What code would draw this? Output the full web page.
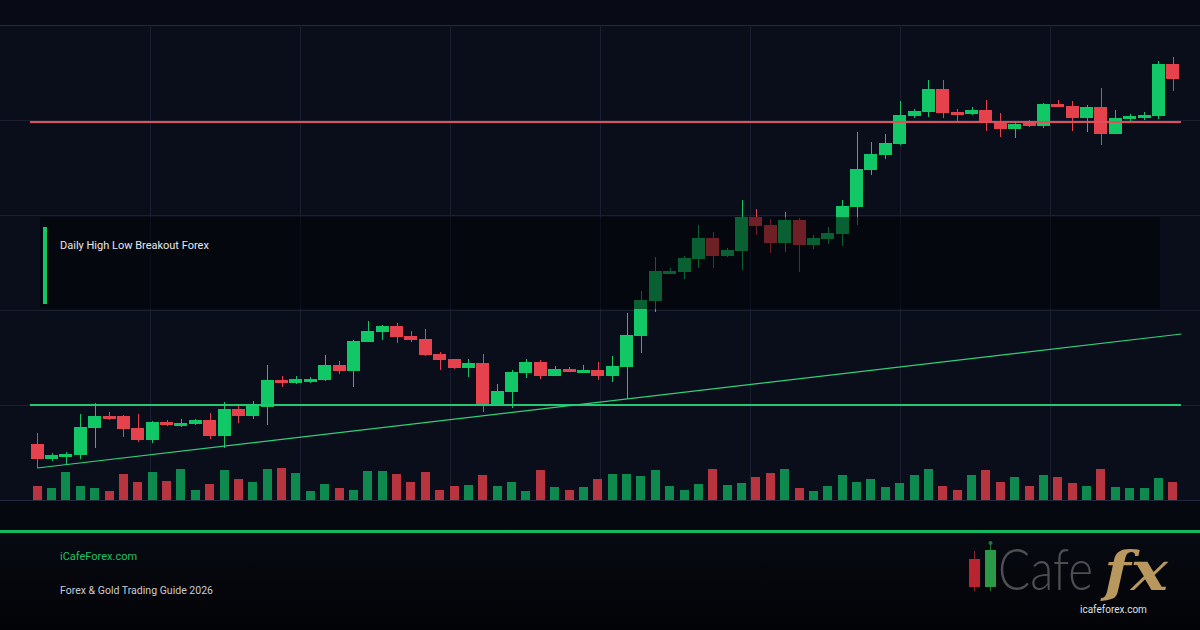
<!DOCTYPE html>
<html>
<head>
<meta charset="utf-8">
<script src="https://cdn.jsdelivr.net/npm/d3@7"></script>
<style>
  html, body { margin: 0; padding: 0; background: #0a0e1a; overflow: hidden; }
  #canvas { width: 1200px; height: 630px; }
</style>
</head>
<body>
<div id="canvas"></div>
<script>
// daily candles
var opens = [
  1.0856, 1.0841, 1.0843, 1.0845, 1.0872, 1.0884, 1.0884, 1.0872, 1.0860, 1.0878,
  1.0874, 1.0876, 1.0880, 1.0864, 1.0891, 1.0884, 1.0893, 1.0920, 1.0917, 1.0918,
  1.0920, 1.0935, 1.0929, 1.0958, 1.0968, 1.0974, 1.0964, 1.0961, 1.0946, 1.0941,
  1.0932, 1.0937, 1.0894, 1.0908, 1.0927, 1.0938, 1.0924, 1.0931, 1.0927, 1.0930,
  1.0924, 1.0933, 1.0964, 1.0999, 1.1026, 1.1028, 1.1041, 1.1062, 1.1044, 1.1049,
  1.1083, 1.1075, 1.1057, 1.1080, 1.1055, 1.1061, 1.1066, 1.1093, 1.1130, 1.1145,
  1.1156, 1.1184, 1.1188, 1.1211, 1.1188, 1.1186, 1.1190, 1.1178, 1.1171, 1.1177,
  1.1174, 1.1196, 1.1194, 1.1182, 1.1193, 1.1166, 1.1181, 1.1182, 1.1184, 1.1236
];
var highs = [
  1.0867, 1.0847, 1.0848, 1.0886, 1.0897, 1.0888, 1.0885, 1.0886, 1.0879, 1.0880,
  1.0881, 1.0881, 1.0887, 1.0898, 1.0894, 1.0899, 1.0935, 1.0924, 1.0924, 1.0923,
  1.0945, 1.0939, 1.0960, 1.0979, 1.0975, 1.0977, 1.0969, 1.0971, 1.0948, 1.0941,
  1.0941, 1.0946, 1.0916, 1.0930, 1.0941, 1.0940, 1.0934, 1.0933, 1.0935, 1.0938,
  1.0944, 1.0987, 1.1009, 1.1043, 1.1032, 1.1044, 1.1075, 1.1068, 1.1052, 1.1100,
  1.1091, 1.1081, 1.1088, 1.1082, 1.1065, 1.1073, 1.1100, 1.1168, 1.1158, 1.1166,
  1.1199, 1.1191, 1.1220, 1.1220, 1.1191, 1.1193, 1.1200, 1.1187, 1.1179, 1.1180,
  1.1197, 1.1200, 1.1199, 1.1195, 1.1212, 1.1190, 1.1186, 1.1188, 1.1239, 1.1243
];
var lows = [
  1.0832, 1.0839, 1.0836, 1.0841, 1.0852, 1.0880, 1.0863, 1.0858, 1.0857, 1.0874,
  1.0873, 1.0875, 1.0861, 1.0852, 1.0877, 1.0881, 1.0875, 1.0913, 1.0916, 1.0917,
  1.0919, 1.0926, 1.0913, 1.0958, 1.0960, 1.0957, 1.0958, 1.0944, 1.0930, 1.0931,
  1.0923, 1.0888, 1.0894, 1.0892, 1.0922, 1.0921, 1.0924, 1.0928, 1.0927, 1.0920,
  1.0918, 1.0901, 1.0947, 1.0988, 1.1026, 1.1021, 1.1032, 1.1032, 1.1043, 1.1030,
  1.1065, 1.1047, 1.1048, 1.1028, 1.1051, 1.1056, 1.1054, 1.1075, 1.1125, 1.1141,
  1.1155, 1.1182, 1.1183, 1.1182, 1.1179, 1.1185, 1.1169, 1.1163, 1.1162, 1.1173,
  1.1172, 1.1193, 1.1169, 1.1168, 1.1155, 1.1166, 1.1178, 1.1180, 1.1181, 1.1209
];
var closes = [
  1.0841, 1.0845, 1.0846, 1.0873, 1.0884, 1.0881, 1.0871, 1.0860, 1.0878, 1.0875,
  1.0877, 1.0880, 1.0864, 1.0891, 1.0884, 1.0896, 1.0920, 1.0917, 1.0921, 1.0921,
  1.0935, 1.0929, 1.0959, 1.0969, 1.0974, 1.0963, 1.0960, 1.0945, 1.0940, 1.0932,
  1.0937, 1.0896, 1.0909, 1.0928, 1.0938, 1.0924, 1.0931, 1.0928, 1.0930, 1.0924,
  1.0934, 1.0965, 1.1000, 1.1029, 1.1029, 1.1042, 1.1062, 1.1044, 1.1050, 1.1083,
  1.1074, 1.1057, 1.1080, 1.1055, 1.1062, 1.1067, 1.1094, 1.1131, 1.1146, 1.1157,
  1.1185, 1.1189, 1.1211, 1.1187, 1.1185, 1.1190, 1.1177, 1.1171, 1.1176, 1.1174,
  1.1196, 1.1193, 1.1182, 1.1193, 1.1166, 1.1182, 1.1184, 1.1185, 1.1236, 1.1221
];
var volumes = [
  1400, 1200, 2800, 1400, 1200, 900, 2600, 1800, 2800, 1900,
  3100, 1000, 1600, 3000, 2100, 1800, 3100, 3200, 2700, 900,
  1600, 1200, 1000, 2900, 2900, 2600, 1800, 2800, 1000, 1400,
  1500, 2500, 1400, 1800, 900, 3000, 1300, 1000, 1300, 2100,
  2600, 2600, 2400, 3000, 1400, 1000, 1600, 3100, 1500, 1700,
  2300, 2700, 3100, 1200, 900, 1400, 2500, 1800, 2100, 1300,
  1700, 2500, 3100, 1400, 1000, 2500, 3000, 1800, 2300, 1400,
  2500, 2300, 1700, 1400, 3100, 1300, 1200, 1200, 2200, 1800
];

var gridPrices = [1.0800, 1.0895, 1.0990, 1.1085, 1.1180, 1.1275];
var resistance = 1.1178;
var support = 1.0895;
var trendPoints = [[0, 1.0832], [79.6, 1.0966]];

var title = "Daily High Low Breakout Forex";
var siteName = "iCafeForex.com";
var subtitle = "Forex & Gold Trading Guide 2026";
var logoUrl = "icafeforex.com";

function run() {
  var width = 1200,
    height = 630;

  var green = "#12c866",
    red = "#e5424e",
    volGreen = "#0f8a4f",
    volRed = "#b8343f";

  var candles = opens.map(function(o, i) {
    return { i: i, o: o, h: highs[i], l: lows[i], c: closes[i], v: volumes[i] };
  });

  var svg = d3
    .select("#canvas")
    .append("svg")
    .attr("width", width)
    .attr("height", height);

  var defs = svg.append("defs");
  var grad = defs
    .append("linearGradient")
    .attr("id", "footerGrad")
    .attr("x1", 0)
    .attr("y1", 0)
    .attr("x2", 0)
    .attr("y2", 1);
  grad.append("stop").attr("offset", "0%").attr("stop-color", "#070a12");
  grad.append("stop").attr("offset", "100%").attr("stop-color", "#020306");

  // backgrounds
  svg.append("rect").attr("width", width).attr("height", height).style("fill", "#0a0e1a");
  svg.append("rect").attr("width", width).attr("height", 25).style("fill", "#080b15");
  svg.append("rect").attr("y", 500).attr("width", width).attr("height", 30).style("fill", "#060810");
  svg.append("rect").attr("y", 533).attr("width", width).attr("height", 97).style("fill", "url(#footerGrad)");

  var x = d3
    .scaleBand()
    .domain(d3.range(candles.length))
    .range([30, 1180])
    .paddingInner(0.1)
    .paddingOuter(0.05);

  var xi = d3
    .scaleLinear()
    .domain([-0.5, candles.length - 0.5])
    .range([30, 1180]);

  var y = d3
    .scaleLinear()
    .domain([gridPrices[0], gridPrices[gridPrices.length - 1]])
    .range([500, 25]);

  var vy = d3
    .scaleLinear()
    .domain([0, 3200])
    .range([500, 468]);

  // grid
  var grid = svg.append("g").attr("class", "grid").style("shape-rendering", "crispEdges");
  grid
    .selectAll("line.h")
    .data(gridPrices)
    .enter()
    .append("line")
    .attr("class", "h")
    .attr("x1", 0)
    .attr("x2", width)
    .attr("y1", function(d) {
      return Math.round(y(d)) + 0.5;
    })
    .attr("y2", function(d) {
      return Math.round(y(d)) + 0.5;
    })
    .style("stroke", function(d, i) {
      return i === 0 || i === gridPrices.length - 1 ? "#232a3b" : "#1a2032";
    });
  grid
    .selectAll("line.v")
    .data(d3.range(150, width, 150))
    .enter()
    .append("line")
    .attr("class", "v")
    .attr("x1", function(d) {
      return d + 0.5;
    })
    .attr("x2", function(d) {
      return d + 0.5;
    })
    .attr("y1", y(gridPrices[gridPrices.length - 1]))
    .attr("y2", y(gridPrices[0]))
    .style("stroke", "#1a2032");

  // volume
  var vw = Math.round(x.bandwidth() * 0.7);
  svg
    .append("g")
    .attr("class", "volume")
    .style("shape-rendering", "crispEdges")
    .selectAll("rect")
    .data(candles)
    .enter()
    .append("rect")
    .attr("x", function(d) {
      return Math.round(x(d.i) + x.bandwidth() / 2 - vw / 2);
    })
    .attr("y", function(d) {
      return vy(d.v);
    })
    .attr("width", vw)
    .attr("height", function(d) {
      return vy(0) - vy(d.v);
    })
    .style("fill", function(d) {
      return d.c >= d.o ? volGreen : volRed;
    });

  // candles
  var candle = svg
    .append("g")
    .attr("class", "candles")
    .style("shape-rendering", "crispEdges")
    .selectAll("g")
    .data(candles)
    .enter()
    .append("g");

  candle
    .append("line")
    .attr("x1", function(d) {
      return Math.round(x(d.i) + x.bandwidth() / 2) + 0.5;
    })
    .attr("x2", function(d) {
      return Math.round(x(d.i) + x.bandwidth() / 2) + 0.5;
    })
    .attr("y1", function(d) {
      return y(d.h);
    })
    .attr("y2", function(d) {
      return y(d.l);
    })
    .style("stroke", function(d) {
      return d.c >= d.o ? green : red;
    });

  candle
    .append("rect")
    .attr("x", function(d) {
      return Math.round(x(d.i));
    })
    .attr("width", Math.round(x.bandwidth()))
    .attr("y", function(d) {
      return y(Math.max(d.o, d.c));
    })
    .attr("height", function(d) {
      return Math.max(2, Math.abs(y(d.o) - y(d.c)));
    })
    .style("fill", function(d) {
      return d.c >= d.o ? green : red;
    });

  // levels
  svg
    .append("line")
    .attr("x1", 30)
    .attr("x2", 1181)
    .attr("y1", y(resistance))
    .attr("y2", y(resistance))
    .style("stroke", "#e0505a")
    .style("stroke-width", 2);

  svg
    .append("line")
    .attr("x1", 30)
    .attr("x2", 1181)
    .attr("y1", y(support))
    .attr("y2", y(support))
    .style("stroke", "#22c873")
    .style("stroke-width", 2);

  svg
    .append("path")
    .datum(trendPoints)
    .attr(
      "d",
      d3
        .line()
        .x(function(d) {
          return xi(d[0]);
        })
        .y(function(d) {
          return y(d[1]);
        })
    )
    .style("fill", "none")
    .style("stroke", "#2fd07c")
    .style("stroke-width", 1.2);

  // title box
  svg
    .append("rect")
    .attr("x", 40)
    .attr("y", 217)
    .attr("width", 1120)
    .attr("height", 92)
    .style("fill", "#010204")
    .style("fill-opacity", 0.52);
  svg
    .append("rect")
    .attr("x", 43)
    .attr("y", 227)
    .attr("width", 4)
    .attr("height", 77)
    .style("fill", "#14c566");
  svg
    .append("text")
    .attr("x", 60)
    .attr("y", 249)
    .text(title)
    .style("font-family", "Roboto, sans-serif")
    .style("font-size", "11px")
    .style("fill", "#e6e8ec");

  // footer
  svg
    .append("rect")
    .attr("y", 530)
    .attr("width", width)
    .attr("height", 3)
    .style("fill", "#12b862");
  svg
    .append("text")
    .attr("x", 60)
    .attr("y", 560)
    .text(siteName)
    .style("font-family", "Roboto, sans-serif")
    .style("font-size", "11px")
    .style("fill", "#1fc266");
  svg
    .append("text")
    .attr("x", 60)
    .attr("y", 594)
    .attr("textLength", 153)
    .attr("lengthAdjust", "spacingAndGlyphs")
    .text(subtitle)
    .style("font-family", "Roboto, sans-serif")
    .style("font-size", "11px")
    .style("fill", "#c9ccd2");

  // logo
  var logo = svg.append("g").attr("class", "logo");
  logo.append("line").attr("x1", 974.5).attr("x2", 974.5).attr("y1", 551).attr("y2", 591).style("stroke", "#8a2028");
  logo.append("rect").attr("x", 969).attr("y", 559).attr("width", 11).attr("height", 28).style("fill", "#b8242f");
  logo.append("line").attr("x1", 990.5).attr("x2", 990.5).attr("y1", 543).attr("y2", 591).style("stroke", "#1f7a38");
  logo.append("circle").attr("cx", 990.5).attr("cy", 543).attr("r", 2).style("fill", "#1f7a38");
  logo.append("rect").attr("x", 985).attr("y", 550).attr("width", 11).attr("height", 37).style("fill", "#2a9a48");

  // squeeze a word to a set width with a transform, so its box is the drawn box
  function fitWord(word, left, base, w, styles) {
    var g = logo.append("g");
    var t = g.append("text").text(word);
    Object.keys(styles).forEach(function(k) {
      t.style(k, styles[k]);
    });
    var natural = t.node().getComputedTextLength();
    g.attr("transform", "translate(" + left + "," + base + ") scale(" + w / natural + ",1)");
    return t;
  }

  fitWord("Cafe", 998, 590, 95, {
    "font-family": "Lato, sans-serif",
    "font-weight": 300,
    "font-size": "58px",
    fill: "#4e4f52"
  });
  fitWord("fx", 1104, 590, 64, {
    "font-family": "'DejaVu Serif', serif",
    "font-style": "italic",
    "font-weight": "bold",
    "font-size": "54px",
    fill: "#b8985c"
  });

  logo
    .append("text")
    .attr("x", 1080)
    .attr("y", 613)
    .text(logoUrl)
    .style("font-family", "Roboto, sans-serif")
    .style("font-size", "10px")
    .style("fill", "#dfe1e4");
}

(function() {
  run();
})();
</script>
</body>
</html>
